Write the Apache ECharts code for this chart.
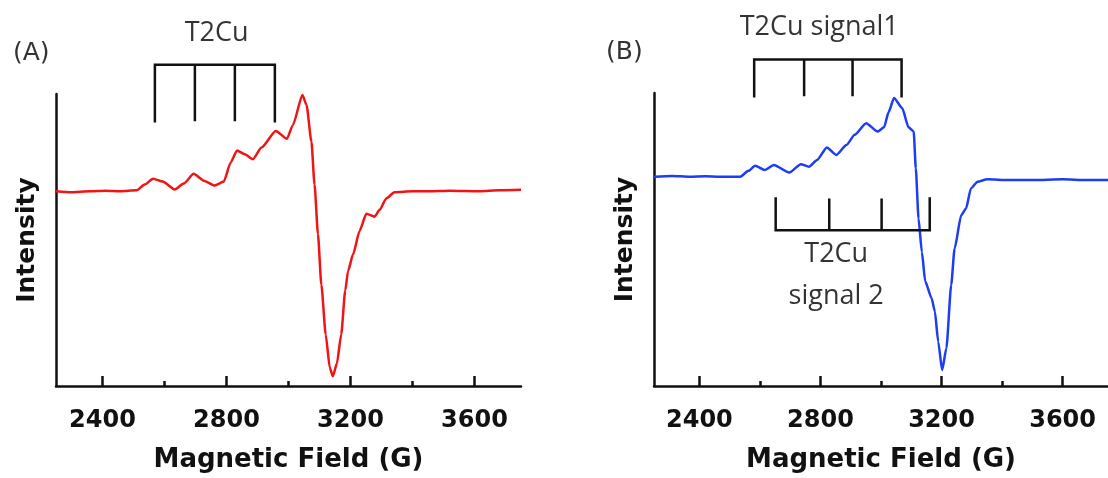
<!DOCTYPE html>
<html><head><meta charset="utf-8">
<script src="https://cdn.jsdelivr.net/npm/echarts@6/dist/echarts.min.js"></script>
<style>html,body{margin:0;padding:0;background:#fff}#c{width:1108px;height:478px}</style>
</head><body><div id="c"></div>
<script>
// Panel A (red) – magnetic field (G) and intensity (arb. units)
const fieldA = [2250, 2300, 2359, 2410, 2456, 2510, 2536, 2563, 2594, 2633, 2662, 2694, 2727, 2762, 2791, 2814, 2834, 2859, 2885, 2913, 2959, 2995, 3014, 3045, 3058, 3074, 3084, 3095, 3106, 3120, 3133, 3143, 3156, 3170, 3183, 3192, 3208, 3229, 3251, 3278, 3294, 3316, 3342, 3400, 3455, 3520, 3616, 3680, 3750];
const intensityA = [0, -1, 0, 0.5, 0, 1, 7, 13, 10, 2, 8, 18, 11, 6, 10, 30, 42, 38, 33, 45, 62, 54, 68, 99, 89, 51, 7, -44, -96, -147, -181, -190, -177, -147, -102, -82, -65, -41, -23, -26, -19, -7, -1, 0, 0, 0.5, 0, 1, 1.5];

// Panel B (blue)
const fieldB = [2250, 2310, 2368, 2420, 2465, 2535, 2562, 2584, 2616, 2646, 2697, 2735, 2762, 2789, 2821, 2852, 2886, 2913, 2951, 2989, 3010, 3025, 3043, 3070, 3091, 3108, 3115, 3124, 3135, 3146, 3167, 3178, 3189, 3202, 3216, 3232, 3243, 3265, 3281, 3297, 3319, 3351, 3420, 3502, 3600, 3680, 3750];
const intensityB = [0, 1, 0, 0.5, 0, 0, 7, 13, 8, 14, 5, 15, 12, 20, 35, 26, 38, 50, 64, 54, 59, 77, 94, 82, 59, 54, 10, -50, -90, -125, -145, -161, -197, -231, -205, -129, -86, -46, -38, -14, -6, -3, -4, -4, -3, -4, -4];

// Hyperfine line markers (field positions in G)
const t2cuA = [2569, 2698, 2827, 2956];
const t2cuSignal1 = [2581, 2746, 2906, 3068];
const t2cuSignal2 = [2652, 2829, 3002, 3161];

// Tick values
const majorTicks = [2400, 2800, 3200, 3600];
const minorTicks = [2600, 3000, 3400];

const pair = (xs, ys) => xs.map((x, i) => [x, ys[i]]);
function bracketPath(fields, tip, bar) {
  const p = [[fields[0], tip], [fields[0], bar]];
  for (let i = 1; i < fields.length; i++) {
    p.push([fields[i], bar], [fields[i], tip]);
    if (i < fields.length - 1) p.push([fields[i], bar]);
  }
  return p;
}

const axisFont = 'DejaVu Sans';
function mainX(grid) {
  return {
    type: 'value', gridIndex: grid, min: 2250, max: 3750, position: 'bottom',
    axisLine: { show: true, onZero: false, lineStyle: { color: '#111', width: 2.5 } },
    axisTick: { show: true, inside: true, length: 10, customValues: majorTicks, lineStyle: { color: '#111', width: 2.5 } },
    axisLabel: { show: true, customValues: majorTicks, formatter: v => String(v), margin: 23, color: '#111', fontFamily: axisFont, fontWeight: 'bold', fontSize: 24 },
    splitLine: { show: false },
    name: 'Magnetic Field (G)', nameLocation: 'middle', nameGap: 61,
    nameTextStyle: { color: '#111', fontFamily: axisFont, fontWeight: 'bold', fontSize: 26 }
  };
}
function minorX(grid) {
  return {
    type: 'value', gridIndex: grid, min: 2250, max: 3750, position: 'bottom',
    axisLine: { show: false, onZero: false },
    axisTick: { show: true, inside: true, length: 5, customValues: minorTicks, lineStyle: { color: '#111', width: 2.5 } },
    axisLabel: { show: false }, splitLine: { show: false }
  };
}
function yAx(grid, min, max) {
  return {
    type: 'value', gridIndex: grid, min: min, max: max, position: 'left',
    axisLine: { show: true, onZero: false, lineStyle: { color: '#111', width: 2.5 } },
    axisTick: { show: false }, axisLabel: { show: false }, splitLine: { show: false },
    name: 'Intensity', nameLocation: 'middle', nameGap: 16,
    nameTextStyle: { color: '#111', fontFamily: axisFont, fontWeight: 'bold', fontSize: 25 }
  };
}
function textSeries(xi, yi, pts, fmt) {
  return {
    type: 'scatter', xAxisIndex: xi, yAxisIndex: yi, symbolSize: 0, clip: false, silent: true, z: 10,
    data: pts,
    label: { show: true, position: 'inside', formatter: fmt, color: '#000', fontFamily: 'Open Sans', fontSize: 27, lineHeight: 42, align: 'center', verticalAlign: 'middle' }
  };
}
function bracketSeries(xi, yi, path) {
  return {
    type: 'line', xAxisIndex: xi, yAxisIndex: yi, data: path, clip: false, silent: true,
    showSymbol: false, symbol: 'none', z: 5,
    lineStyle: { color: '#111', width: 2.5, cap: 'square', join: 'miter' }
  };
}

const chart = echarts.init(document.getElementById('c'), null, { renderer: 'canvas' });
chart.setOption({
  animation: false,
  backgroundColor: '#fff',
  grid: [
    { left: 56, top: 94, width: 465, height: 293 },
    { left: 654, top: 93, width: 463, height: 293 }
  ],
  xAxis: [mainX(0), minorX(0), mainX(1), minorX(1)],
  yAxis: [yAx(0, -200, 100), yAx(1, -250, 100)],
  graphic: [
    { type: 'text', left: 13, top: 41, style: { text: '(A)', font: '25px "DejaVu Sans"', fill: '#333' } },
    { type: 'text', left: 606, top: 40, style: { text: '(B)', font: '25px "DejaVu Sans"', fill: '#333' } }
  ],
  series: [
    { type: 'line', xAxisIndex: 0, yAxisIndex: 0, data: pair(fieldA, intensityA), showSymbol: false, symbol: 'none',
      smooth: 0.2, smoothMonotone: 'x', lineStyle: { color: '#f01414', width: 2.5 }, z: 3 },
    { type: 'line', xAxisIndex: 2, yAxisIndex: 1, data: pair(fieldB, intensityB), showSymbol: false, symbol: 'none',
      smooth: 0.2, smoothMonotone: 'x', lineStyle: { color: '#1c3cf5', width: 2.5 }, z: 3 },
    bracketSeries(0, 0, bracketPath(t2cuA, 72, 130)),
    bracketSeries(2, 1, bracketPath(t2cuSignal1, 96, 140)),
    bracketSeries(2, 1, bracketPath(t2cuSignal2, -26, -64)),
    textSeries(0, 0, [[2768, 162]], 'T2Cu'),
    textSeries(2, 1, [[2796, 178]], 'T2Cu signal1'),
    textSeries(2, 1, [[2852, -118]], 'T2Cu\nsignal 2')
  ]
});
</script>
</body></html>
